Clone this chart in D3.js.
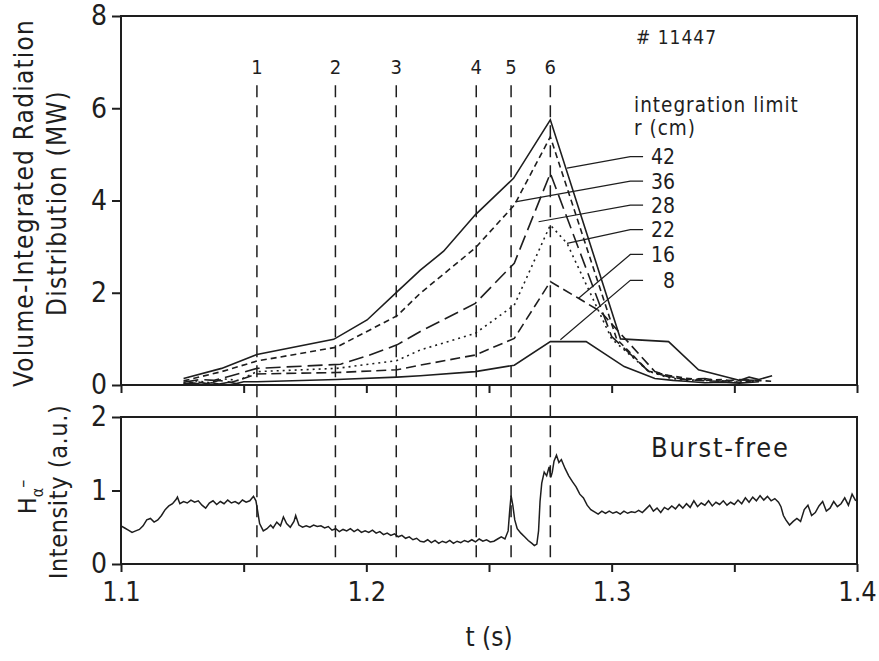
<!DOCTYPE html>
<html>
<head>
<meta charset="utf-8">
<script src="https://cdn.jsdelivr.net/npm/d3@7"></script>
<style>
  body { margin: 0; background: #fff; }
  svg text { font-family: "DejaVu Sans Condensed", "Liberation Sans Narrow", "DejaVu Sans", sans-serif; fill: #1e1e1e; }
</style>
</head>
<body>
<svg id="chart" width="879" height="661"></svg>
<script>
// radiation curves, one pair of arrays per integration limit (t in s, P in MW)
const t42 = [1.1255, 1.141, 1.1554, 1.1867, 1.2003, 1.2125, 1.222, 1.2315, 1.2444, 1.26, 1.275, 1.3036, 1.3232, 1.3354, 1.3484, 1.352, 1.356, 1.36, 1.3654];
const p42 = [0.14, 0.36, 0.66, 0.99, 1.41, 2.02, 2.49, 2.9, 3.69, 4.48, 5.75, 1.0, 0.94, 0.33, 0.15, 0.1, 0.17, 0.12, 0.2];
const t36 = [1.1255, 1.141, 1.1554, 1.1879, 1.2125, 1.222, 1.2444, 1.2603, 1.275, 1.302, 1.315, 1.322, 1.33, 1.338, 1.345, 1.352, 1.36, 1.365];
const p36 = [0.09, 0.29, 0.52, 0.82, 1.5, 1.99, 2.97, 3.9, 5.38, 1.0, 0.3, 0.22, 0.15, 0.1, 0.12, 0.06, 0.1, 0.08];
const t28 = [1.1255, 1.132, 1.138, 1.145, 1.1554, 1.1895, 1.2003, 1.2125, 1.222, 1.2444, 1.2603, 1.275, 1.3, 1.315, 1.323, 1.33, 1.338, 1.345, 1.352, 1.36];
const p28 = [0.06, 0.12, 0.1, 0.2, 0.36, 0.45, 0.63, 0.87, 1.16, 1.77, 2.64, 4.59, 1.05, 0.3, 0.18, 0.12, 0.14, 0.08, 0.11, 0.1];
const t22 = [1.1255, 1.131, 1.136, 1.142, 1.148, 1.1554, 1.1879, 1.2125, 1.222, 1.2444, 1.2603, 1.275, 1.2818, 1.3, 1.315, 1.323, 1.33, 1.34, 1.35, 1.36];
const p22 = [0.04, 0.09, 0.05, 0.13, 0.1, 0.29, 0.36, 0.53, 0.76, 1.12, 1.73, 3.47, 3.07, 1.0, 0.3, 0.16, 0.1, 0.12, 0.06, 0.08];
const t16 = [1.1255, 1.131, 1.135, 1.14, 1.145, 1.15, 1.1554, 1.1879, 1.2125, 1.222, 1.2444, 1.2603, 1.275, 1.2865, 1.2955, 1.3176, 1.325, 1.33, 1.338, 1.345, 1.352, 1.36];
const p16 = [0.02, 0.07, 0.03, 0.1, 0.06, 0.14, 0.24, 0.27, 0.33, 0.43, 0.65, 1.01, 2.24, 1.88, 1.59, 0.29, 0.17, 0.12, 0.09, 0.08, 0.12, 0.1];
const t8 = [1.1255, 1.13, 1.133, 1.137, 1.14, 1.144, 1.147, 1.15, 1.1554, 1.1879, 1.2125, 1.222, 1.2444, 1.2603, 1.275, 1.2896, 1.3051, 1.3176, 1.325, 1.33, 1.338, 1.345, 1.352, 1.36];
const p8 = [0.015, 0.04, 0.01, 0.05, 0.02, 0.06, 0.03, 0.07, 0.07, 0.12, 0.17, 0.2, 0.29, 0.43, 0.94, 0.94, 0.40, 0.14, 0.1, 0.08, 0.05, 0.06, 0.04, 0.07];

// labels of the integration limits and where their leader lines point
const radii = ['42', '36', '28', '22', '16', '8'];
const labelMW = [4.95, 4.42, 3.9, 3.37, 2.83, 2.27];
const leaderT = [1.2818, 1.2607, 1.2702, 1.2818, 1.2865, 1.2791];
const leaderMW = [4.70, 3.97, 3.54, 3.07, 1.88, 0.98];

// time slices marked by dashed lines
const markT = [1.1554, 1.1874, 1.2122, 1.2448, 1.259, 1.275];
const markLabels = ['1', '2', '3', '4', '5', '6'];

// H-alpha trace
const haT = [1.100, 1.1015, 1.103, 1.1045, 1.106, 1.1075, 1.109, 1.1105, 1.112, 1.1135, 1.115, 1.1165, 1.118, 1.1195, 1.121, 1.1225, 1.123, 1.124, 1.1255, 1.127,
  1.1285, 1.130, 1.1315, 1.133, 1.1345, 1.136, 1.1375, 1.139, 1.1405, 1.142, 1.1435, 1.145, 1.1465, 1.148, 1.1495, 1.151, 1.1525, 1.154, 1.155, 1.1558,
  1.1565, 1.158, 1.1595, 1.161, 1.162, 1.1635, 1.165, 1.1662, 1.1675, 1.169, 1.1705, 1.1712, 1.1725, 1.174, 1.1755, 1.177, 1.1785, 1.180, 1.1815, 1.183,
  1.1845, 1.186, 1.1875, 1.189, 1.1905, 1.192, 1.1935, 1.195, 1.1965, 1.198, 1.1995, 1.201, 1.2025, 1.204, 1.2055, 1.207, 1.2085, 1.210, 1.2115, 1.213,
  1.2145, 1.216, 1.2175, 1.219, 1.2205, 1.222, 1.2235, 1.225, 1.2265, 1.228, 1.2295, 1.231, 1.2325, 1.234, 1.2355, 1.237, 1.2385, 1.240, 1.2415, 1.243,
  1.2445, 1.246, 1.2475, 1.249, 1.2505, 1.252, 1.2535, 1.255, 1.2565, 1.2578, 1.2585, 1.2590, 1.2597, 1.2605, 1.2615, 1.263, 1.2645, 1.266, 1.2675, 1.2685,
  1.2695, 1.2702, 1.2708, 1.2715, 1.2725, 1.2735, 1.2745, 1.2752, 1.2758, 1.2765, 1.2775, 1.2785, 1.2795, 1.281, 1.2825, 1.284, 1.2855, 1.287, 1.2885, 1.290,
  1.2915, 1.293, 1.2945, 1.296, 1.2975, 1.299, 1.3005, 1.302, 1.3035, 1.305, 1.3065, 1.308, 1.3095, 1.311, 1.3125, 1.314, 1.3155, 1.317, 1.3185, 1.320,
  1.3215, 1.323, 1.3245, 1.326, 1.3275, 1.329, 1.3305, 1.332, 1.3335, 1.335, 1.3365, 1.338, 1.3395, 1.341, 1.3425, 1.344, 1.3455, 1.347, 1.3485, 1.350,
  1.3515, 1.353, 1.3545, 1.356, 1.3575, 1.359, 1.3605, 1.362, 1.3635, 1.365, 1.3665, 1.368, 1.369, 1.370, 1.371, 1.3725, 1.374, 1.3755, 1.377, 1.3785,
  1.380, 1.3815, 1.383, 1.3845, 1.386, 1.3875, 1.389, 1.3905, 1.392, 1.3935, 1.395, 1.3965, 1.398, 1.3995];
const haV = [0.52, 0.49, 0.46, 0.43, 0.45, 0.47, 0.52, 0.60, 0.62, 0.57, 0.60, 0.66, 0.74, 0.79, 0.82, 0.88, 0.91, 0.82, 0.85, 0.83,
  0.87, 0.84, 0.86, 0.80, 0.76, 0.83, 0.86, 0.81, 0.85, 0.82, 0.87, 0.83, 0.85, 0.82, 0.87, 0.84, 0.86, 0.92, 0.86, 0.70,
  0.55, 0.45, 0.48, 0.53, 0.49, 0.57, 0.52, 0.64, 0.55, 0.50, 0.58, 0.66, 0.53, 0.50, 0.52, 0.50, 0.53, 0.51, 0.52, 0.49,
  0.51, 0.46, 0.48, 0.44, 0.47, 0.45, 0.48, 0.44, 0.47, 0.43, 0.45, 0.43, 0.46, 0.42, 0.44, 0.40, 0.42, 0.39, 0.41, 0.37,
  0.39, 0.35, 0.37, 0.33, 0.35, 0.31, 0.30, 0.33, 0.29, 0.32, 0.28, 0.31, 0.29, 0.32, 0.28, 0.31, 0.29, 0.32, 0.30, 0.33,
  0.30, 0.34, 0.31, 0.33, 0.30, 0.31, 0.34, 0.37, 0.34, 0.45, 0.75, 0.93, 0.80, 0.60, 0.48, 0.42, 0.37, 0.32, 0.28, 0.25,
  0.27, 0.45, 0.85, 1.10, 1.25, 1.20, 1.32, 1.18, 1.25, 1.40, 1.48, 1.38, 1.42, 1.30, 1.20, 1.12, 1.05, 0.95, 0.90, 0.80,
  0.74, 0.71, 0.68, 0.72, 0.69, 0.72, 0.69, 0.71, 0.68, 0.72, 0.69, 0.71, 0.70, 0.73, 0.70, 0.75, 0.80, 0.72, 0.76, 0.70,
  0.77, 0.74, 0.79, 0.75, 0.81, 0.76, 0.82, 0.77, 0.86, 0.78, 0.83, 0.80, 0.86, 0.79, 0.84, 0.81, 0.86, 0.80, 0.84, 0.81,
  0.87, 0.82, 0.90, 0.84, 0.91, 0.86, 0.93, 0.87, 0.92, 0.86, 0.89, 0.84, 0.78, 0.66, 0.60, 0.53, 0.58, 0.62, 0.58, 0.74,
  0.80, 0.66, 0.70, 0.79, 0.85, 0.72, 0.76, 0.85, 0.78, 0.82, 0.90, 0.80, 0.95, 0.86];

const topTicks = [0, 2, 4, 6, 8];
const botTicks = [0, 1, 2];
const timeTicks = [1.1, 1.15, 1.2, 1.25, 1.3, 1.35, 1.4];
const timeLabels = [1.1, 1.2, 1.3, 1.4];

const ink = '#1e1e1e';
const svg = d3.select('#chart');

const x = d3.scaleLinear().domain([1.1, 1.4]).range([121, 857]);
const yTop = d3.scaleLinear().domain([0, 8]).range([385, 16]);
const yBot = d3.scaleLinear().domain([0, 2]).range([564, 417]);

// frames
[[yTop, 8], [yBot, 2]].forEach(([y, top]) => {
    svg.append('rect')
        .attr('x', x(1.1)).attr('y', y(top))
        .attr('width', x(1.4) - x(1.1)).attr('height', y(0) - y(top))
        .attr('fill', 'none').attr('stroke', ink).attr('stroke-width', 2);
});

function styleAxis(g, size) {
    g.select('.domain').remove();
    g.selectAll('line').attr('stroke', ink).attr('stroke-width', 2);
    g.selectAll('text').style('font-size', size + 'px').attr('fill', ink);
}

svg.append('g').attr('transform', `translate(${x(1.1)},0)`)
    .call(d3.axisLeft(yTop).tickValues(topTicks).tickSize(9).tickPadding(5).tickFormat(d3.format('d')))
    .call(g => styleAxis(g, 28));
svg.append('g').attr('transform', `translate(${x(1.1)},0)`)
    .call(d3.axisLeft(yBot).tickValues(botTicks).tickSize(9).tickPadding(5).tickFormat(d3.format('d')))
    .call(g => styleAxis(g, 28));
svg.append('g').attr('transform', `translate(0,${yTop(0)})`)
    .call(d3.axisBottom(x).tickValues(timeTicks).tickSize(8).tickFormat(''))
    .call(g => styleAxis(g, 26));
svg.append('g').attr('transform', `translate(0,${yBot(0)})`)
    .call(d3.axisBottom(x).tickValues(timeTicks).tickSize(8).tickPadding(10)
        .tickFormat(d => timeLabels.includes(d) ? d3.format('.1f')(d) : ''))
    .call(g => styleAxis(g, 27));

// dashed time markers through both panels
svg.append('g').selectAll('line').data(markT).join('line')
    .attr('x1', d => x(d)).attr('x2', d => x(d))
    .attr('y1', yTop(6.5)).attr('y2', yBot(0))
    .attr('stroke', ink).attr('stroke-width', 1.5).attr('stroke-dasharray', '12,8');
svg.append('g').selectAll('text').data(markT).join('text')
    .attr('x', d => x(d)).attr('y', yTop(6.9)).attr('dy', '0.35em')
    .attr('text-anchor', 'middle').style('font-size', '20px')
    .text((d, i) => markLabels[i]);

// radiation curves
const curves = [
    { t: t42, p: p42, dash: null },
    { t: t36, p: p36, dash: '6,4' },
    { t: t28, p: p28, dash: '15,6' },
    { t: t22, p: p22, dash: '2,4' },
    { t: t16, p: p16, dash: '10,5' },
    { t: t8, p: p8, dash: null }
];
const line = d3.line().x(d => x(d[0])).y(d => yTop(d[1]));
curves.forEach(c => {
    svg.append('path')
        .datum(c.t.map((t, i) => [t, c.p[i]]))
        .attr('d', line)
        .attr('fill', 'none').attr('stroke', ink).attr('stroke-width', 1.6)
        .attr('stroke-dasharray', c.dash);
});

// leader lines and labels
radii.forEach((r, i) => {
    svg.append('path')
        .attr('d', d3.line()([[x(1.3128), yTop(labelMW[i])], [x(1.3076), yTop(labelMW[i])], [x(leaderT[i]), yTop(leaderMW[i])]]))
        .attr('fill', 'none').attr('stroke', ink).attr('stroke-width', 1.2);
    svg.append('text')
        .attr('x', x(1.3128) + 32).attr('y', yTop(labelMW[i])).attr('dy', '0.36em')
        .attr('text-anchor', 'end').style('font-size', '21px')
        .text(r);
});

svg.append('text').attr('x', 634).attr('y', 112).style('font-size', '20.5px').style('letter-spacing', '1px').text('integration limit');
svg.append('text').attr('x', 634).attr('y', 135).style('font-size', '20.5px').style('letter-spacing', '1px').text('r (cm)');
svg.append('text').attr('x', 636).attr('y', 44).style('font-size', '19px').style('letter-spacing', '1px').text('# 11447');

// H-alpha trace
svg.append('path')
    .datum(haT.map((t, i) => [t, haV[i]]))
    .attr('d', d3.line().x(d => x(d[0])).y(d => yBot(d[1])))
    .attr('fill', 'none').attr('stroke', ink).attr('stroke-width', 1.5);

svg.append('text').attr('x', 651).attr('y', 457).style('font-size', '27px').style('letter-spacing', '1.8px').text('Burst-free');

// axis titles
const yt = svg.append('text').attr('transform', 'translate(33,203) rotate(-90)')
    .attr('text-anchor', 'middle').style('font-size', '26px').style('letter-spacing', '1.2px');
yt.append('tspan').attr('x', 0).attr('dy', 0).text('Volume-Integrated  Radiation');
yt.append('tspan').attr('x', 0).attr('dy', 33).text('Distribution  (MW)');

const hb = svg.append('text').attr('transform', 'translate(36,497) rotate(-90)')
    .attr('text-anchor', 'middle').style('font-size', '25px');
hb.append('tspan').text('H');
hb.append('tspan').attr('dy', 7).style('font-size', '16px').text('α');
hb.append('tspan').attr('dy', -15).style('font-size', '18px').text('–');
svg.append('text').attr('transform', 'translate(67,492) rotate(-90)')
    .attr('text-anchor', 'middle').style('font-size', '25px').style('letter-spacing', '0.6px').text('Intensity (a.u.)');

svg.append('text').attr('x', x(1.25)).attr('y', 646)
    .attr('text-anchor', 'middle').style('font-size', '26px').text('t (s)');
</script>
</body>
</html>
